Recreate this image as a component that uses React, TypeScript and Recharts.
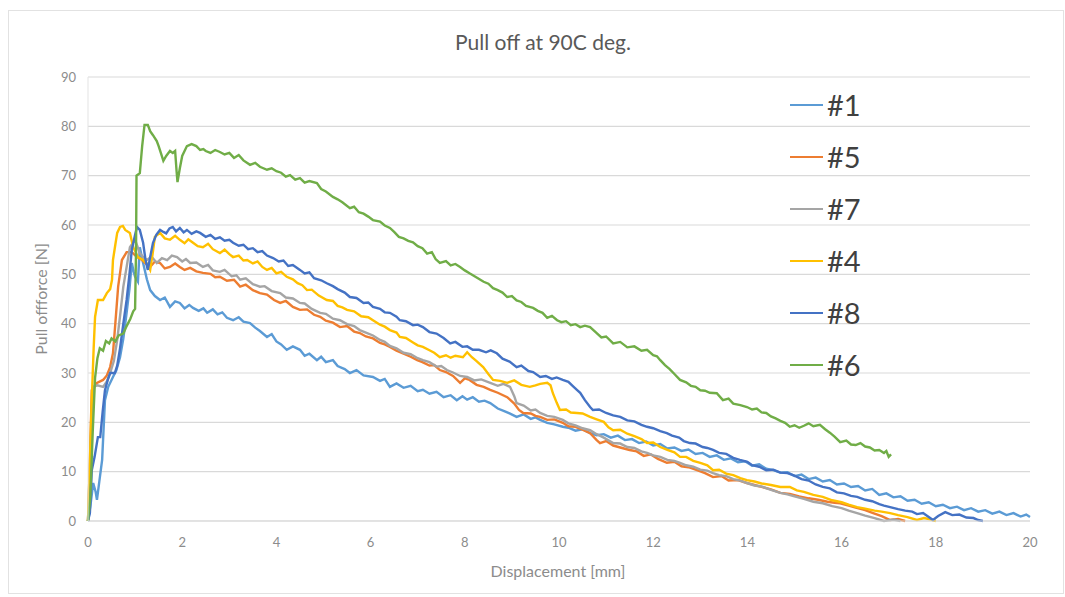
import { LineChart, Line, XAxis, YAxis, CartesianGrid } from "recharts";

// displacement [mm], pull-off force [N] pairs
const s1: number[][] = [
  [0, 0], [0.05, 3], [0.11, 7.7], [0.16, 6], [0.19, 4.3], [0.24, 8], [0.3, 12.4], [0.36, 24.5], [0.43, 27.2], [0.53, 29.2],
  [0.6, 30.5], [0.68, 33.2], [0.75, 37], [0.82, 42.2], [0.88, 47], [0.93, 52.3], [0.97, 50.5], [1.0, 49.5], [1.06, 48.5], [1.1, 55.5],
  [1.17, 52.3], [1.25, 49], [1.32, 46.8], [1.42, 45.6], [1.53, 44.8], [1.63, 45.3], [1.74, 43.4], [1.85, 44.5], [1.95, 44.2], [2.05, 43.1],
  [2.15, 43.8], [2.23, 43.2], [2.35, 42.6], [2.45, 43.1], [2.53, 42.2], [2.65, 42.9], [2.75, 41.9], [2.85, 42.3], [2.95, 41.2], [3.08, 40.7],
  [3.2, 41.3], [3.3, 40.4], [3.44, 40.1], [3.55, 39.2], [3.65, 38.5], [3.8, 37.3], [3.9, 37.9], [4.0, 36.4], [4.1, 35.8], [4.22, 34.7],
  [4.35, 35.4], [4.5, 34.7], [4.6, 33.5], [4.7, 33.9], [4.86, 32.6], [4.95, 33.3], [5.05, 32.2], [5.2, 32.6], [5.3, 31.4], [5.45, 30.8],
  [5.56, 30], [5.7, 30.6], [5.85, 29.5], [6.05, 29.2], [6.2, 28.4], [6.3, 28.8], [6.41, 27.2], [6.55, 27.9], [6.7, 27], [6.85, 27.4],
  [7.0, 26.3], [7.11, 26.6], [7.25, 25.8], [7.4, 26.2], [7.55, 25.1], [7.7, 25.5], [7.83, 24.5], [7.95, 25.3], [8.05, 24.6], [8.17, 25.1],
  [8.3, 24.2], [8.42, 24.4], [8.54, 23.9], [8.7, 22.8], [8.85, 22.2], [8.95, 21.8], [9.1, 21.1], [9.25, 21.6], [9.4, 20.7], [9.5, 21],
  [9.6, 20.5], [9.75, 19.9], [9.9, 19.6], [10.08, 19.1], [10.2, 18.9], [10.35, 18.3], [10.5, 18.6], [10.66, 17.8], [10.8, 17.4], [10.95, 17.6],
  [11.1, 16.9], [11.25, 17.3], [11.4, 16.4], [11.55, 16.6], [11.7, 15.8], [11.85, 16.1], [12.0, 15.3], [12.15, 15.6], [12.3, 14.7], [12.45, 14.9],
  [12.6, 14.2], [12.75, 14.5], [12.9, 13.6], [13.05, 13.8], [13.2, 13], [13.35, 13.3], [13.5, 12.4], [13.65, 12.7], [13.8, 11.9], [13.95, 12.1],
  [14.1, 11.2], [14.25, 11.5], [14.4, 10.6], [14.55, 10.3], [14.7, 9.8], [14.85, 9.9], [15.0, 9.1], [15.15, 9.4], [15.3, 8.5], [15.45, 8.8],
  [15.6, 8.0], [15.75, 8.3], [15.9, 7.4], [16.05, 7.6], [16.2, 6.9], [16.35, 7.1], [16.5, 6.2], [16.65, 6.5], [16.8, 5.3], [16.95, 5.6],
  [17.1, 4.8], [17.25, 5], [17.4, 4.1], [17.55, 4.3], [17.7, 3.5], [17.85, 3.8], [18.0, 3], [18.15, 3.3], [18.3, 2.6], [18.45, 2.9],
  [18.6, 2.2], [18.75, 2.6], [18.9, 1.9], [19.05, 2.2], [19.2, 1.5], [19.35, 1.9], [19.5, 1.2], [19.65, 1.6], [19.8, 0.9], [19.92, 1.3], [20, 0.8],
];

const s5: number[][] = [
  [0, 0], [0.04, 12], [0.08, 26.5], [0.19, 28], [0.32, 28.6], [0.4, 29.5], [0.47, 31.2], [0.53, 34], [0.58, 40], [0.64, 47.5],
  [0.72, 52.9], [0.82, 54.5], [0.93, 54.5], [1.04, 53.5], [1.15, 52.9], [1.25, 52], [1.32, 51.5], [1.42, 52.6], [1.53, 52.3], [1.63, 51.2],
  [1.74, 51.5], [1.85, 52.2], [1.95, 51.5], [2.05, 50.9], [2.17, 51.3], [2.3, 50.6], [2.44, 50.3], [2.6, 50.1], [2.7, 49.4], [2.8, 49.5],
  [2.95, 48.7], [3.1, 48.9], [3.23, 47.5], [3.35, 47.9], [3.5, 46.8], [3.65, 46.2], [3.8, 45.9], [3.95, 44.8], [4.08, 44.2], [4.2, 44.6],
  [4.35, 43.4], [4.5, 42.8], [4.65, 42.9], [4.8, 41.8], [4.93, 41.4], [5.05, 40.6], [5.2, 40.2], [5.35, 39.3], [5.5, 39.5], [5.65, 38.4],
  [5.77, 38.1], [5.9, 37.4], [6.05, 37], [6.2, 36.1], [6.3, 35.8], [6.41, 35.3], [6.55, 34.5], [6.7, 33.9], [6.85, 33.3], [6.99, 32.6],
  [7.1, 32.2], [7.25, 31.5], [7.35, 31.6], [7.47, 30.6], [7.6, 30.2], [7.75, 29.4], [7.9, 28], [8.0, 28.9], [8.1, 28.6], [8.25, 27.6],
  [8.4, 27.2], [8.54, 26.6], [8.7, 26], [8.9, 25.1], [9.05, 23.8], [9.15, 22.5], [9.24, 21.9], [9.4, 21.8], [9.5, 21.3], [9.6, 21.1],
  [9.75, 20.5], [9.9, 20.6], [10.08, 19.9], [10.2, 19.2], [10.35, 19.1], [10.5, 18.5], [10.66, 17.8], [10.8, 16.4], [10.87, 15.8], [11.0, 16.2],
  [11.15, 15.3], [11.3, 14.9], [11.5, 14.4], [11.65, 14.1], [11.8, 13.2], [11.95, 13.5], [12.1, 12.6], [12.29, 11.8], [12.45, 12], [12.6, 11.1],
  [12.75, 10.9], [12.93, 10.3], [13.1, 9.7], [13.27, 8.9], [13.45, 9.1], [13.6, 8.2], [13.8, 8.3], [13.99, 7.7], [14.15, 7.3], [14.3, 6.9],
  [14.5, 6.4], [14.7, 5.7], [14.9, 5.5], [15.1, 5], [15.3, 4.6], [15.5, 4.3], [15.7, 3.9], [15.85, 3.7], [15.97, 3.6], [16.15, 3.1],
  [16.3, 2.7], [16.5, 2.2], [16.67, 1.6], [16.85, 1], [17.03, 0.2], [17.2, 0.4], [17.35, 0],
];

const s7: number[][] = [
  [0, 0], [0.05, 14], [0.11, 27.2], [0.2, 27.5], [0.32, 27.2], [0.4, 28.3], [0.47, 30], [0.55, 32.5], [0.62, 36.7], [0.68, 41.5],
  [0.75, 47.5], [0.82, 51.5], [0.89, 55.5], [1.0, 57], [1.1, 54.3], [1.18, 53.4], [1.25, 52.9], [1.35, 53.6], [1.46, 52.3], [1.57, 53.3],
  [1.68, 52.9], [1.78, 53.8], [1.89, 53.5], [2.0, 52.6], [2.08, 53.1], [2.17, 52.3], [2.3, 52.4], [2.44, 51.5], [2.55, 51.9], [2.65, 50.8],
  [2.8, 50.5], [2.9, 50.9], [3.05, 49.6], [3.15, 49.8], [3.23, 48.9], [3.35, 49.2], [3.5, 48], [3.65, 47.5], [3.75, 47.6], [3.9, 46.6],
  [4.08, 46.2], [4.2, 45.3], [4.35, 45.1], [4.5, 44.2], [4.6, 44.1], [4.75, 43], [4.93, 42.2], [5.05, 42], [5.2, 41], [5.35, 40.7],
  [5.5, 39.9], [5.65, 39.5], [5.77, 38.7], [5.9, 38.2], [6.05, 37.6], [6.2, 36.7], [6.3, 36.3], [6.41, 35.5], [6.55, 35], [6.7, 34.1],
  [6.85, 33.8], [7.0, 33], [7.11, 32.6], [7.25, 32.2], [7.4, 31.3], [7.5, 31.4], [7.62, 30.6], [7.75, 30.1], [7.9, 29.4], [8.05, 29.2],
  [8.2, 28.5], [8.35, 28.7], [8.54, 28], [8.7, 27.4], [8.82, 27.8], [8.96, 27.2], [9.05, 25.3], [9.1, 23.9], [9.25, 23.4], [9.4, 22.4],
  [9.5, 22.6], [9.6, 21.9], [9.75, 21.3], [9.9, 21.1], [10.08, 20.5], [10.2, 19.8], [10.35, 19.4], [10.5, 18.8], [10.66, 18.4], [10.8, 17.6],
  [10.95, 16.9], [11.15, 15.8], [11.3, 15.7], [11.45, 15], [11.6, 14.8], [11.75, 14.1], [11.87, 13.8], [12.0, 13.3], [12.15, 13], [12.3, 12.4],
  [12.45, 12.2], [12.57, 11.8], [12.7, 11.3], [12.85, 11], [13.0, 10.4], [13.15, 10.2], [13.27, 9.7], [13.4, 9.3], [13.55, 9.1], [13.7, 8.5],
  [13.85, 8.2], [13.99, 7.7], [14.15, 7.2], [14.3, 7], [14.5, 6.3], [14.7, 5.7], [14.85, 5.4], [15.0, 5], [15.2, 4.5], [15.4, 3.9],
  [15.6, 3.6], [15.8, 3], [16.0, 2.6], [16.15, 2.1], [16.33, 1.6], [16.5, 1.1], [16.7, 0.6], [16.9, 0], [17.1, 0.3], [17.25, 0],
];

const s4: number[][] = [
  [0, 0], [0.04, 12], [0.08, 24.5], [0.12, 35], [0.15, 41.4], [0.21, 44.8], [0.32, 44.8], [0.4, 46.2], [0.47, 47], [0.51, 48.9],
  [0.53, 52.9], [0.58, 56], [0.62, 58.4], [0.68, 59.6], [0.74, 59.8], [0.79, 59], [0.89, 58.4], [0.96, 55.5], [1.06, 53.5], [1.17, 52.9],
  [1.25, 52.2], [1.32, 50.9], [1.37, 54], [1.42, 57.6], [1.53, 58.4], [1.63, 57.3], [1.74, 57], [1.85, 57.8], [1.95, 57], [2.05, 56.3],
  [2.13, 57.1], [2.23, 56.4], [2.33, 55.7], [2.44, 55.5], [2.55, 56.2], [2.65, 55.1], [2.8, 54.3], [2.9, 55], [3.0, 54.1], [3.08, 53.5],
  [3.2, 53.8], [3.3, 52.8], [3.38, 52.9], [3.5, 52.2], [3.6, 52.6], [3.7, 51.5], [3.8, 50.9], [3.9, 51.3], [4.0, 50.2], [4.1, 50.5],
  [4.22, 49.5], [4.35, 49], [4.45, 48.2], [4.55, 47.8], [4.65, 46.8], [4.75, 46.9], [4.9, 45.7], [5.07, 44.8], [5.2, 44.6], [5.3, 43.6],
  [5.4, 43.3], [5.5, 42.8], [5.65, 42.5], [5.8, 41.5], [5.95, 41.3], [6.05, 40.7], [6.2, 39.8], [6.3, 39.4], [6.41, 38.7], [6.55, 38.2],
  [6.62, 37.3], [6.75, 37.1], [6.9, 36.2], [7.0, 35.6], [7.11, 35.3], [7.25, 34.6], [7.35, 34.1], [7.47, 33.2], [7.6, 33.6], [7.7, 33.1],
  [7.8, 33.5], [7.96, 33.2], [8.05, 34.2], [8.15, 33.2], [8.25, 32.4], [8.39, 31.2], [8.5, 29.8], [8.6, 28.6], [8.75, 28.4], [8.9, 28],
  [9.05, 28.5], [9.2, 27.6], [9.38, 27.2], [9.5, 27.5], [9.6, 27.8], [9.75, 28], [9.82, 27.5], [9.87, 25.9], [9.95, 24], [10.02, 22.5],
  [10.15, 22.6], [10.25, 22], [10.38, 21.9], [10.5, 21.8], [10.66, 21.1], [10.8, 20.6], [10.95, 20.1], [11.05, 19], [11.15, 18.4], [11.3, 18.5],
  [11.45, 17.7], [11.6, 17.2], [11.75, 16.6], [11.87, 15.8], [12.0, 15.9], [12.15, 15], [12.3, 14.4], [12.45, 13.9], [12.57, 13], [12.7, 13],
  [12.85, 12.2], [13.0, 11.8], [13.15, 11.3], [13.27, 10.3], [13.4, 10.4], [13.55, 9.6], [13.7, 9.3], [13.85, 8.7], [13.99, 8.3], [14.15, 8],
  [14.3, 7.6], [14.5, 7.3], [14.7, 6.9], [14.9, 6.9], [15.05, 6.2], [15.2, 5.9], [15.4, 5.3], [15.6, 4.9], [15.8, 4.2], [16.0, 3.8],
  [16.15, 3.3], [16.33, 2.8], [16.5, 2.5], [16.7, 2.1], [16.85, 1.9], [17.03, 1.6], [17.2, 1.2], [17.4, 0.8], [17.6, 0.2], [17.75, 0.6],
  [17.9, 0.3], [18.0, 0],
];

const s8: number[][] = [
  [0, 0], [0.04, 1.6], [0.08, 10.3], [0.14, 13], [0.21, 17], [0.26, 17], [0.31, 22], [0.36, 26.5], [0.42, 28.6], [0.47, 30],
  [0.57, 30], [0.62, 31.5], [0.68, 35], [0.75, 40], [0.82, 44.8], [0.88, 50], [0.93, 55], [1.0, 58], [1.04, 59.6], [1.1, 59],
  [1.17, 56.4], [1.22, 53], [1.27, 50.9], [1.32, 53.5], [1.38, 56.4], [1.45, 58], [1.53, 59], [1.6, 58.6], [1.66, 58.3], [1.73, 59.3],
  [1.8, 59.6], [1.87, 58.7], [1.95, 59.4], [2.03, 58.5], [2.1, 59], [2.2, 58.2], [2.3, 58.7], [2.38, 58.4], [2.5, 57.6], [2.6, 58],
  [2.7, 57.2], [2.8, 57.5], [2.9, 56.8], [3.0, 57], [3.08, 56.4], [3.2, 55.8], [3.3, 56], [3.4, 55.1], [3.5, 55.3], [3.6, 54.5],
  [3.7, 54.7], [3.8, 53.8], [3.93, 53.3], [4.05, 52.6], [4.15, 52.8], [4.25, 51.7], [4.35, 51.9], [4.5, 50.9], [4.6, 50.2], [4.7, 50.4],
  [4.8, 49.2], [4.95, 48.8], [5.07, 48.2], [5.2, 47.6], [5.3, 47], [5.45, 46.3], [5.56, 45.4], [5.7, 45.2], [5.85, 44.2], [5.95, 44.3],
  [6.05, 43.4], [6.2, 43], [6.3, 42.3], [6.41, 42.2], [6.55, 41.4], [6.62, 40.7], [6.75, 40.5], [6.9, 39.7], [7.0, 39.8], [7.11, 39.3],
  [7.25, 38.3], [7.4, 38], [7.55, 37.1], [7.69, 36], [7.8, 36.3], [7.95, 35.3], [8.05, 35.4], [8.17, 34.7], [8.3, 34.7], [8.45, 34.2],
  [8.55, 34.6], [8.68, 34], [8.8, 32.9], [8.95, 32.3], [9.1, 31.2], [9.2, 31.5], [9.35, 30.4], [9.45, 30.2], [9.6, 29.2], [9.72, 29.4],
  [9.85, 28.8], [9.95, 29.1], [10.08, 28.6], [10.2, 28.2], [10.3, 27.3], [10.38, 26.6], [10.45, 26], [10.55, 24.5], [10.66, 23.1], [10.72, 22.5],
  [10.85, 22.6], [11.0, 21.9], [11.15, 21.4], [11.3, 21.1], [11.45, 20.4], [11.6, 20.2], [11.75, 19.5], [11.87, 19.1], [12.0, 18.8], [12.15, 18.2],
  [12.29, 17.8], [12.4, 17.3], [12.55, 16.9], [12.65, 16.2], [12.78, 15.8], [12.9, 15.7], [13.05, 15], [13.15, 14.8], [13.27, 14.4], [13.4, 13.8],
  [13.55, 13.6], [13.7, 12.8], [13.84, 12.4], [14.0, 12], [14.1, 11.3], [14.25, 11], [14.4, 10.3], [14.55, 10.4], [14.7, 9.8], [14.85, 9.7],
  [15.0, 9.2], [15.15, 8.5], [15.3, 8.2], [15.45, 7.4], [15.6, 6.9], [15.75, 6.6], [15.9, 5.8], [16.05, 5.6], [16.2, 5.1], [16.33, 4.9],
  [16.5, 4.3], [16.65, 4], [16.8, 3.4], [16.9, 3.1], [17.03, 2.8], [17.2, 2.4], [17.35, 2.1], [17.5, 1.9], [17.6, 1.4], [17.73, 1.6],
  [17.85, 0.8], [17.94, 0.2], [18.05, 1], [18.2, 1.8], [18.35, 1.2], [18.5, 1.3], [18.65, 0.7], [18.8, 0.6], [18.9, 0.2], [19.0, 0],
];

const s6: number[][] = [
  [0, 0], [0.05, 5], [0.1, 18], [0.15, 29], [0.2, 33], [0.25, 35], [0.32, 34.5], [0.38, 36.5], [0.45, 36], [0.5, 37],
  [0.58, 36.4], [0.65, 37.6], [0.75, 38], [0.82, 39.5], [0.9, 41], [0.96, 42.5], [1.0, 43], [1.02, 55], [1.03, 70], [1.1, 70.5],
  [1.15, 76], [1.2, 80.3], [1.27, 80.3], [1.32, 79], [1.38, 78.2], [1.46, 77], [1.5, 76], [1.55, 74.5], [1.6, 73], [1.66, 74],
  [1.74, 75], [1.8, 74.6], [1.85, 75], [1.88, 71], [1.9, 68.7], [1.95, 71.5], [2.0, 74], [2.1, 76], [2.2, 76.4], [2.3, 76],
  [2.38, 75.2], [2.45, 75.4], [2.5, 75], [2.6, 74.6], [2.7, 75.2], [2.8, 74.8], [2.9, 74.3], [3.0, 74.6], [3.1, 73.6], [3.2, 74.2],
  [3.3, 73.1], [3.44, 72.2], [3.55, 72.6], [3.65, 71.8], [3.8, 71.2], [3.9, 71.5], [4.0, 70.9], [4.1, 70.6], [4.2, 69.8], [4.29, 70.1],
  [4.4, 69.2], [4.5, 69.5], [4.6, 68.6], [4.7, 68.9], [4.86, 68.5], [4.95, 67.3], [5.05, 66.8], [5.2, 65.7], [5.3, 65.2], [5.4, 64.6],
  [5.56, 63.4], [5.65, 63.7], [5.75, 62.6], [5.85, 62.3], [5.95, 61.7], [6.05, 61], [6.2, 60.7], [6.3, 59.9], [6.41, 59.4], [6.5, 58.6],
  [6.6, 57.6], [6.7, 57.3], [6.8, 56.8], [6.9, 56.5], [7.0, 55.7], [7.1, 55.3], [7.2, 54.2], [7.3, 54.5], [7.38, 53.1], [7.47, 52.3],
  [7.6, 52.7], [7.7, 51.8], [7.8, 52.1], [7.9, 51.5], [8.0, 50.8], [8.1, 50.2], [8.26, 49.3], [8.4, 48.5], [8.5, 48.1], [8.6, 47.2],
  [8.7, 46.8], [8.8, 46.3], [8.9, 45.4], [9.0, 45.6], [9.1, 44.7], [9.2, 44.4], [9.3, 43.6], [9.45, 43.2], [9.55, 42.6], [9.65, 42.2],
  [9.75, 41.2], [9.85, 41.6], [9.96, 40.7], [10.05, 40.3], [10.15, 40.5], [10.25, 39.7], [10.35, 39.9], [10.45, 39.3], [10.55, 39.6], [10.66, 39.3],
  [10.8, 38.1], [10.9, 37.2], [11.0, 37.4], [11.15, 36], [11.3, 36.3], [11.45, 35.2], [11.6, 35.4], [11.75, 34.5], [11.87, 34.7], [12.0, 33.6],
  [12.08, 33.4], [12.15, 32.6], [12.25, 31.6], [12.35, 30.8], [12.45, 29.8], [12.57, 28.6], [12.7, 28.1], [12.8, 27.4], [12.9, 27.2], [13.0, 26.5],
  [13.1, 26.4], [13.2, 26], [13.35, 25.9], [13.48, 24.5], [13.6, 24.8], [13.7, 23.8], [13.85, 23.5], [13.99, 23.1], [14.1, 22.6], [14.2, 22.8],
  [14.3, 22], [14.4, 21.9], [14.5, 21.2], [14.6, 20.8], [14.7, 20.3], [14.8, 19.9], [14.9, 19.1], [15.0, 19.4], [15.1, 18.9], [15.2, 19.3],
  [15.3, 19.8], [15.4, 19.2], [15.54, 19.5], [15.65, 18.6], [15.75, 17.9], [15.85, 17.1], [15.97, 16], [16.1, 16.3], [16.2, 15.5], [16.3, 15.4],
  [16.4, 15.8], [16.5, 15.1], [16.6, 14.9], [16.7, 14.3], [16.8, 14.4], [16.9, 13.8], [16.95, 14.2], [17.0, 13], [17.05, 13.5],
];

const seriesNames = ["#1", "#5", "#7", "#4", "#8", "#6"];
const seriesColors = ["#5B9BD5", "#ED7D31", "#A5A5A5", "#FFC000", "#4472C4", "#70AD47"];
const seriesData = [s1, s5, s7, s4, s8, s6];
const xTicks = [0, 2, 4, 6, 8, 10, 12, 14, 16, 18, 20];
const yTicks = [0, 10, 20, 30, 40, 50, 60, 70, 80, 90];

const FONT = "Lato, 'Open Sans', sans-serif";

const toPoints = (arr: number[][]) => arr.map(([x, y]) => ({ x, y }));

export default function App() {
  return (
    <div
      style={{
        position: "absolute",
        left: 0,
        top: 0,
        width: 1065,
        height: 597,
        background: "#fff",
        fontFamily: FONT,
      }}
    >
      <div
        style={{
          position: "absolute",
          left: 8,
          top: 10,
          width: 1054,
          height: 582,
          border: "1px solid #e2e2e2",
        }}
      />
      <LineChart
        width={1065}
        height={597}
        margin={{ top: 77, right: 35, bottom: 46, left: 38 }}
        style={{ position: "absolute", left: 0, top: 0 }}
      >
        <CartesianGrid vertical={false} stroke="#d9d9d9" strokeWidth={1.2} />
        <XAxis
          type="number"
          dataKey="x"
          domain={[0, 20]}
          ticks={xTicks}
          allowDuplicatedCategory={false}
          height={30}
          tickLine={false}
          tickSize={0}
          tickMargin={17}
          axisLine={{ stroke: "#d9d9d9" }}
          tick={{ fill: "#8c8c8c", fontSize: 13, fontFamily: FONT }}
        />
        <YAxis
          type="number"
          domain={[0, 90]}
          ticks={yTicks}
          width={50}
          tickLine={false}
          tickSize={0}
          tickMargin={12}
          axisLine={{ stroke: "#e3e3e3" }}
          tick={{ fill: "#8c8c8c", fontSize: 13, fontFamily: FONT }}
        />
        {seriesData.map((d, i) => (
          <Line
            key={seriesNames[i]}
            data={toPoints(d)}
            dataKey="y"
            name={seriesNames[i]}
            type="linear"
            stroke={seriesColors[i]}
            strokeWidth={2.4}
            dot={false}
            activeDot={false}
            isAnimationActive={false}
          />
        ))}
      </LineChart>

      {/* title */}
      <div
        style={{
          position: "absolute",
          left: 543,
          top: 29,
          transform: "translateX(-50%)",
          fontSize: 21,
          color: "#595959",
          whiteSpace: "nowrap",
        }}
      >
        Pull off at 90C deg.
      </div>

      {/* axis titles */}
      <div
        style={{
          position: "absolute",
          left: 558,
          top: 570,
          transform: "translate(-50%, -50%)",
          fontSize: 16,
          color: "#8c8c8c",
          whiteSpace: "nowrap",
        }}
      >
        Displacement [mm]
      </div>
      <div
        style={{
          position: "absolute",
          left: 40,
          top: 299,
          transform: "translate(-50%, -50%) rotate(-90deg)",
          fontSize: 16,
          color: "#8c8c8c",
          whiteSpace: "nowrap",
        }}
      >
        Pull offforce [N]
      </div>

      {/* legend */}
      {seriesNames.map((name, i) => (
        <div
          key={name}
          style={{
            position: "absolute",
            left: 790,
            top: 105 + i * 52 - 17,
            height: 34,
            display: "flex",
            alignItems: "center",
          }}
        >
          <div style={{ width: 33, height: 2.5, background: seriesColors[i] }} />
          <span style={{ marginLeft: 4, fontSize: 29, color: "#404040", lineHeight: "34px" }}>{name}</span>
        </div>
      ))}
    </div>
  );
}
